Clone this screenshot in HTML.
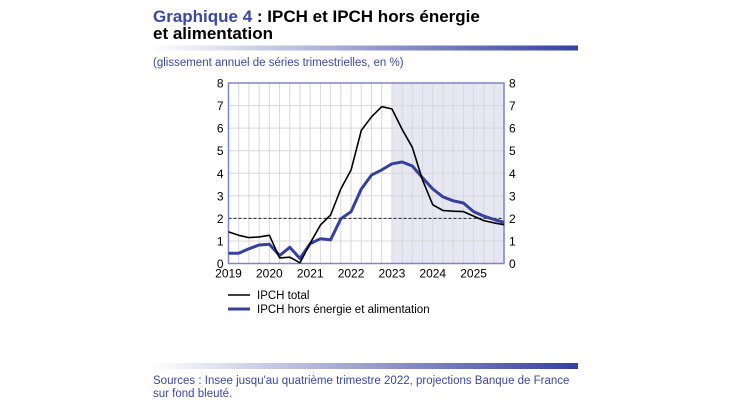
<!DOCTYPE html>
<html><head><meta charset="utf-8"><style>
body{margin:0;width:730px;height:410px;background:#fff;overflow:hidden;font-family:"Liberation Sans",sans-serif}
</style></head><body>
<svg width="730" height="410" viewBox="0 0 730 410" xmlns="http://www.w3.org/2000/svg" font-family="Liberation Sans, sans-serif">
<defs>
<linearGradient id="bar" x1="0" x2="1" y1="0" y2="0"><stop offset="0" stop-color="#fff"/><stop offset="1" stop-color="#3541a0"/></linearGradient>
</defs>
<text x="153" y="22" font-size="17" font-weight="bold"><tspan fill="#3a48a4">Graphique 4</tspan><tspan fill="#000"> : IPCH et IPCH hors énergie</tspan></text>
<text x="153" y="39" font-size="17" font-weight="bold" fill="#000">et alimentation</text>
<rect x="150" y="45.5" width="428" height="5" fill="url(#bar)"/>
<text x="153" y="66" font-size="11.5" fill="#3a48a4">(glissement annuel de séries trimestrielles, en %)</text>
<g id="plot"></g>
<g>
<line x1="228" y1="295" x2="250" y2="295" stroke="#000" stroke-width="1.5"/>
<text x="257" y="299" font-size="11.5">IPCH total</text>
<line x1="228" y1="309" x2="250" y2="309" stroke="#3541a0" stroke-width="3"/>
<text x="257" y="313" font-size="11.5">IPCH hors énergie et alimentation</text>
</g>
<rect x="150" y="363" width="428" height="6" fill="url(#bar)"/>
<text x="153" y="384" font-size="11.5" fill="#3a48a4">Sources : Insee jusqu'au quatrième trimestre 2022, projections Banque de France</text>
<text x="153" y="397" font-size="11.5" fill="#3a48a4">sur fond bleuté.</text>
</svg>
<script>
const years=["2019","2020","2021","2022","2023","2024","2025"];
const yTicks=[0,1,2,3,4,5,6,7,8];
const ipchTotal=[1.4,1.25,1.15,1.18,1.25,0.25,0.28,0.03,0.9,1.7,2.15,3.3,4.15,5.9,6.5,6.95,6.85,5.95,5.15,3.7,2.6,2.35,2.32,2.3,2.1,1.9,1.8,1.72];
const ipchCore=[0.45,0.45,0.65,0.82,0.85,0.35,0.72,0.22,0.88,1.1,1.05,1.98,2.3,3.3,3.92,4.15,4.42,4.5,4.32,3.8,3.3,2.95,2.78,2.68,2.3,2.1,1.95,1.82];
const target=[2];
const projStart=16;
(function(){
const ns="http://www.w3.org/2000/svg",g=document.getElementById("plot");
const L=228.5,R=504,T=83,B=263.5,n=ipchTotal.length,step=40.85/4;
const x=i=>L+i*step, y=v=>B-(v/8)*(B-T);
function el(t,a,p){const e=document.createElementNS(ns,t);for(const k in a)e.setAttribute(k,a[k]);(p||g).appendChild(e);return e;}
const sh=el("rect",{x:x(projStart),y:T,width:R-x(projStart),height:B-T,fill:"#e6e7f2"});


for(let i=1;i<28;i++){const l=el("line",{x1:x(i),x2:x(i),y1:T,y2:B,stroke:"#d8d8d8","stroke-width":1});

}
yTicks.forEach(v=>{if(v>0&&v<8){const l=el("line",{x1:L,x2:R,y1:y(v),y2:y(v),stroke:"#d8d8d8","stroke-width":1});

}
const t1=el("text",{x:L-5,y:y(v)+4.5,"font-size":12,"text-anchor":"end"});t1.textContent=v;


const t2=el("text",{x:R+5,y:y(v)+4.5,"font-size":12});t2.textContent=v;

});
years.forEach((yr,k)=>{const t=el("text",{x:x(k*4),y:B+14,"font-size":12,"text-anchor":"middle"});t.textContent=yr;

});
const tl=el("line",{x1:L,x2:R,y1:y(target[0]),y2:y(target[0]),stroke:"#222","stroke-width":1,"stroke-dasharray":"3,2"});


const fr=el("rect",{x:L,y:T,width:R-L,height:B-T,fill:"none",stroke:"#7b86c4","stroke-width":1.5});


const pts=a=>a.map((v,i)=>x(i).toFixed(1)+","+y(v).toFixed(1)).join(" ");
const c=el("polyline",{points:pts(ipchCore),fill:"none",stroke:"#3541a0","stroke-width":3,"stroke-linejoin":"round"});


const tt=el("polyline",{points:pts(ipchTotal),fill:"none",stroke:"#000","stroke-width":1.6,"stroke-linejoin":"round"});


})();
</script>
</body></html>
